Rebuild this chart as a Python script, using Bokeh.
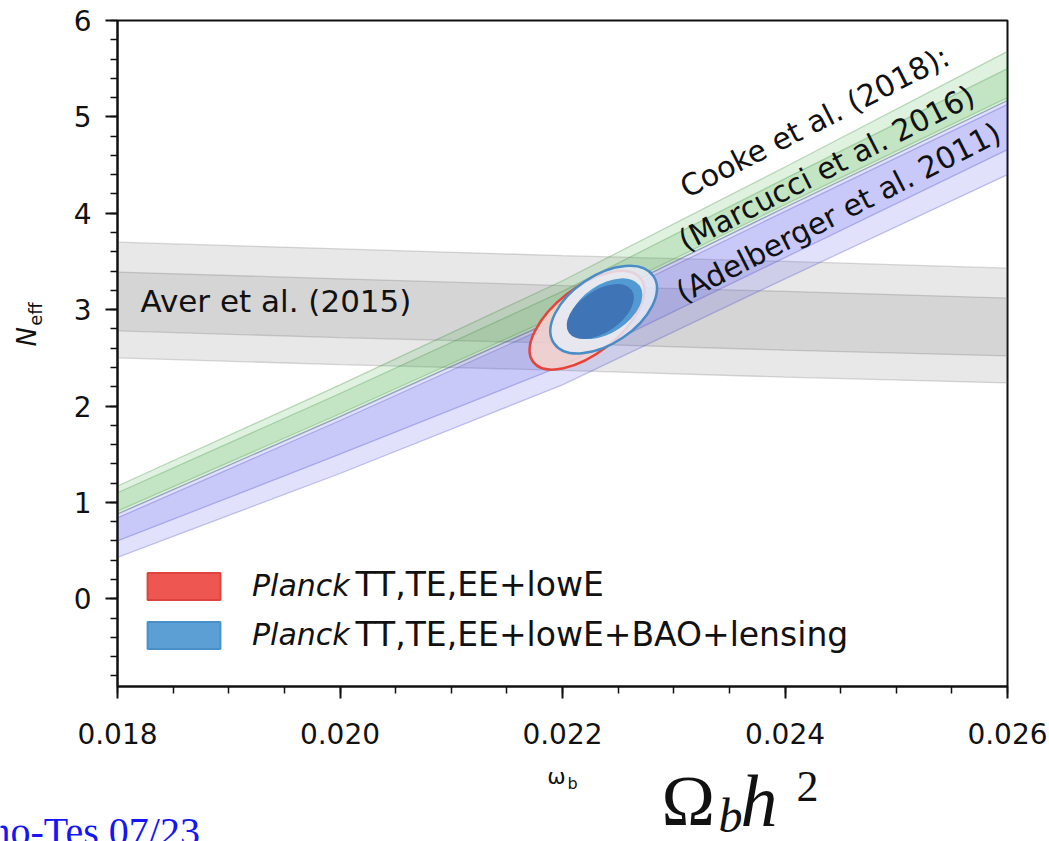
import numpy as np
from bokeh.plotting import figure
from bokeh.layouts import column, row
from bokeh.models import (Range1d, FixedTicker, PrintfTickFormatter, Label,
                          Legend, LegendItem, ColumnDataSource)
from bokeh.embed import file_html
from bokeh.resources import INLINE

# ---------------- data ----------------
omega_b = [0.018, 0.020, 0.022, 0.024, 0.026]

# Aver et al. (2015) helium band
aver_2s_hi = [3.70, 3.63, 3.56, 3.50, 3.43]
aver_1s_hi = [3.39, 3.32, 3.25, 3.19, 3.12]
aver_1s_lo = [2.78, 2.71, 2.65, 2.58, 2.52]
aver_2s_lo = [2.50, 2.43, 2.37, 2.30, 2.24]

# Cooke et al. (2018), Marcucci et al. 2016 rates
marc_2s_hi = [1.17, 2.22, 3.30, 4.48, 5.68]
marc_1s_hi = [1.10, 2.13, 3.19, 4.36, 5.50]
marc_1s_lo = [0.91, 1.92, 2.96, 4.09, 5.20]
marc_2s_lo = [0.88, 1.89, 2.93, 4.06, 5.17]

# Cooke et al. (2018), Adelberger et al. 2011 rates
adel_2s_hi = [0.88, 1.89, 2.93, 4.06, 5.17]
adel_1s_hi = [0.84, 1.85, 2.89, 4.02, 5.13]
adel_1s_lo = [0.60, 1.50, 2.42, 3.54, 4.66]
adel_2s_lo = [0.43, 1.30, 2.22, 3.32, 4.40]

# Planck contours (centre, on-screen extent in px, tilt in degrees)
contour_name = ["TTTEEE 2s", "TTTEEE+BAO+lens 2s", "TTTEEE+BAO+lens 1s", "core"]
contour_x = [0.02222, 0.02237, 0.02239, 0.02234]
contour_y = [2.89, 3.00, 3.01, 2.98]
contour_w = [136, 120, 82, 76]
contour_h = [66, 68, 48, 42]
contour_tilt = [38, 34, 34, 34]

x_ticks = [0.018, 0.020, 0.022, 0.024, 0.026]
y_ticks = [0, 1, 2, 3, 4, 5, 6]
legend_labels = ["TT,TE,EE+lowE", "TT,TE,EE+lowE+BAO+lensing"]

FONT = "DejaVu Sans"
INK = "#111111"

# ---------------- main figure ----------------
p = figure(width=999, height=760, x_range=Range1d(0.018, 0.026),
           y_range=Range1d(-0.91, 6.0), output_backend="svg",
           toolbar_location=None, min_border_left=67, min_border_right=42,
           min_border_top=20, min_border_bottom=74)
p.grid.visible = False
p.outline_line_color = INK
p.outline_line_width = 2

src = ColumnDataSource(dict(x=omega_b,
                            a2h=aver_2s_hi, a1h=aver_1s_hi, a1l=aver_1s_lo, a2l=aver_2s_lo,
                            m2h=marc_2s_hi, m1h=marc_1s_hi, m1l=marc_1s_lo, m2l=marc_2s_lo,
                            d2h=adel_2s_hi, d1h=adel_1s_hi, d1l=adel_1s_lo, d2l=adel_2s_lo))

def band(prefix, color, edge):
    p.varea(x="x", y1=prefix + "2l", y2=prefix + "2h", source=src,
            fill_color=color, fill_alpha=0.18)
    p.varea(x="x", y1=prefix + "1l", y2=prefix + "1h", source=src,
            fill_color=color, fill_alpha=0.18)
    for k in ("2l", "1l", "1h", "2h"):
        p.line(x="x", y=prefix + k, source=src, line_color=edge,
               line_alpha=0.3, line_width=1.3)

band("a", "#7f7f7f", "#7f7f7f")
band("m", "#4caf50", "#3b8f3f")
band("d", "#5a5af0", "#4848c8")

ang = [np.radians(t) for t in contour_tilt]
p.ellipse(x=[contour_x[0]], y=[contour_y[0]], width=[contour_w[0]], height=[contour_h[0]],
          angle=[ang[0]], width_units="screen", height_units="screen",
          fill_color="#f7d3cc", fill_alpha=0.85, line_color="#e6433a", line_width=2.5)
p.ellipse(x=[contour_x[1]], y=[contour_y[1]], width=[contour_w[1]], height=[contour_h[1]],
          angle=[ang[1]], width_units="screen", height_units="screen",
          fill_color="#e6ebf6", fill_alpha=0.85, line_color="#4a8dc6", line_width=2.5)
p.ellipse(x=[contour_x[2]], y=[contour_y[2]], width=[contour_w[2]], height=[contour_h[2]],
          angle=[ang[2]], width_units="screen", height_units="screen",
          fill_color="#519ad3", line_color=None)
p.ellipse(x=[contour_x[3]], y=[contour_y[3]], width=[contour_w[3]], height=[contour_h[3]],
          angle=[ang[3]], width_units="screen", height_units="screen",
          fill_color="#3f74b6", line_color=None)

for ax in (p.xaxis[0], p.yaxis[0]):
    ax.axis_line_color = INK
    ax.axis_line_width = 2
    ax.major_tick_line_color = INK
    ax.minor_tick_line_color = INK
    ax.major_tick_line_width = 2
    ax.minor_tick_line_width = 1.5
    ax.major_tick_in = 0
    ax.major_tick_out = 12
    ax.minor_tick_in = 0
    ax.minor_tick_out = 7
    ax.major_label_text_font = FONT
    ax.major_label_text_font_size = "28px"
    ax.major_label_text_color = INK

p.xaxis.ticker = FixedTicker(ticks=x_ticks,
                             minor_ticks=list(np.round(np.arange(0.018, 0.02601, 0.0005), 5)))
p.xaxis.formatter = PrintfTickFormatter(format="%.3f")
p.xaxis.major_label_standoff = 24
p.yaxis.ticker = FixedTicker(ticks=y_ticks,
                             minor_ticks=list(np.round(np.arange(-0.8, 6.01, 0.2), 2)))
p.yaxis.formatter = PrintfTickFormatter(format="%d")
p.yaxis.major_label_standoff = 14


def lab(fig, x, y, text, size="30px", font=FONT, style="normal", align="left",
        angle=0.0, color=INK):
    fig.add_layout(Label(x=x, y=y, text=text, text_font=font, text_font_size=size,
                         text_font_style=style, text_align=align,
                         text_baseline="middle", angle=angle, text_color=color))

lab(p, 0.018207, 3.09, "Aver et al. (2015)", size="31px")
lab(p, 0.024266, 4.95, "Cooke et al. (2018):", align="center", angle=np.radians(27))
lab(p, 0.024374, 4.47, "(Marcucci et al. 2016)", align="center", angle=np.radians(27))
lab(p, 0.024481, 4.01, "(Adelberger et al. 2011)", align="center", angle=np.radians(27))

# legend (swatches via proxy renderers, "Planck" italic, rest as text)
r_red = p.quad(left=[np.nan], right=[np.nan], top=[np.nan], bottom=[np.nan],
               fill_color="#ee5751", line_color="#e0433d", line_width=2)
r_blue = p.quad(left=[np.nan], right=[np.nan], top=[np.nan], bottom=[np.nan],
                fill_color="#5b9fd4", line_color="#4a90c8", line_width=2)
legend = Legend(items=[LegendItem(label="Planck", renderers=[r_red]),
                       LegendItem(label="Planck", renderers=[r_blue])],
                location=(21, 34), glyph_width=91, glyph_height=34, label_height=34,
                label_standoff=23, spacing=14, padding=0, margin=0,
                label_text_font=FONT, label_text_font_size="30px",
                label_text_font_style="italic", label_text_color=INK,
                border_line_alpha=0, background_fill_alpha=0)
p.add_layout(legend)
lab(p, 0.020139, 0.15, legend_labels[0], size="33px")
lab(p, 0.020139, -0.37, legend_labels[1], size="33px")

# ---------------- left strip: N_eff ----------------
left = figure(width=50, height=760, x_range=Range1d(0, 50), y_range=Range1d(760, 0),
              output_backend="svg", toolbar_location=None, x_axis_type=None,
              y_axis_type=None, min_border=0)
left.grid.visible = False
left.outline_line_color = None
lab(left, 26, 361, "N", size="26px", style="italic", align="center", angle=np.pi / 2)
lab(left, 35, 335, "eff", size="18px", align="center", angle=np.pi / 2)

# ---------------- footer strip ----------------
foot = figure(width=1049, height=81, x_range=Range1d(0, 1049), y_range=Range1d(841, 760),
              output_backend="svg", toolbar_location=None, x_axis_type=None,
              y_axis_type=None, min_border=0)
foot.grid.visible = False
foot.outline_line_color = None
lab(foot, 556, 776, "ω", size="22px", align="center")
lab(foot, 567, 783, "b", size="16px")
lab(foot, 661, 800, "Ω", size="72px", font="Liberation Serif")
lab(foot, 718, 815, "b", size="48px", font="Liberation Serif", style="italic")
lab(foot, 740, 800, "h", size="74px", font="Liberation Serif", style="italic")
lab(foot, 796, 786, "2", size="44px", font="Liberation Serif")
lab(foot, -10, 831, "no-Tes  07/23", size="40px", font="Liberation Serif", color="#1515f5")

layout = column(row(left, p, spacing=0), foot, spacing=0)
open("out.html", "w").write(file_html(layout, INLINE))
